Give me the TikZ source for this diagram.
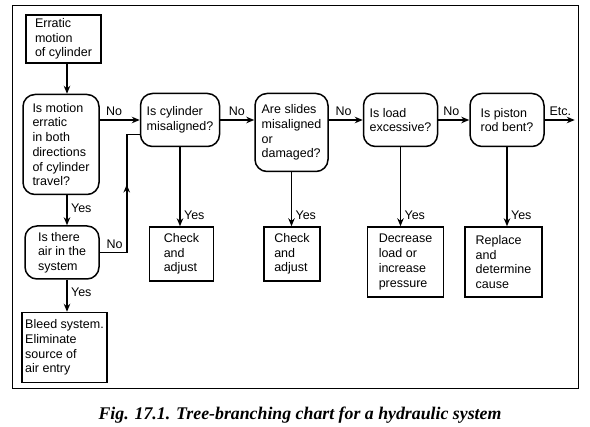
\documentclass[tikz,border=0pt]{standalone}
\usepackage{fontspec}
\setmainfont{Liberation Sans}
\newfontfamily\capfont{Liberation Serif}
\usetikzlibrary{positioning,arrows.meta}

\begin{document}
\begin{tikzpicture}[x=1pt, y=1pt, line width=1.5pt, >={Stealth[length=8pt,width=6.5pt]},
        font=\fontsize{12.5}{14.7}\selectfont,
        actbox/.style={rectangle, draw, align=left, inner sep=2pt},
        askbox/.style={rectangle, rounded corners=12pt, draw, align=left, inner sep=2pt}]
            \useasboundingbox (0,0) rectangle (590,-427);
            % --- Frame ---
            \draw[line width=0.9pt] (12,-5) rectangle (578,-388);

            % --- Nodes Placement ---
            \node[actbox, minimum width=75pt, minimum height=48pt] (Err) at (63.5,-39) {Erratic\\motion\\of cylinder};
            \node[askbox, minimum width=76pt, minimum height=100pt] (Both) [below=30pt of Err, xshift=-2.5pt] {Is motion\\erratic\\in both\\directions\\of cylinder\\travel?};
            \node[askbox, minimum width=74pt, minimum height=53pt] (Air) [below=30pt of Both, xshift=1pt] {Is there\\air in the\\system};
            \node[actbox, minimum width=85pt, minimum height=70pt] (Bleed) [below=32pt of Air, xshift=2.5pt] {Bleed system.\\Eliminate\\source of\\air entry};

            \node[askbox, minimum width=79pt, minimum height=53pt] (Mis) [right=40pt of Both.north east, anchor=north west, yshift=1pt] {Is cylinder\\misaligned?};
            \node[askbox, minimum width=73pt, minimum height=78pt] (Slides) [right=34pt of Mis.north east, anchor=north west] {Are slides\\misaligned\\or\\damaged?};
            \node[askbox, minimum width=74pt, minimum height=53pt] (Load) [right=34pt of Slides.north east, anchor=north west] {Is load\\excessive?};
            \node[askbox, minimum width=74pt, minimum height=53pt] (Rod) [right=31pt of Load.north east, anchor=north west] {Is piston\\rod bent?};
            \coordinate[right=30pt of Rod.east] (etc);

            \node[actbox, minimum width=64pt, minimum height=54pt] (Adj1) [below=79pt of Mis, xshift=1.5pt] {Check\\and\\adjust};
            \node[actbox, minimum width=56pt, minimum height=54pt, anchor=north, xshift=0.5pt] (Adj2) at (Slides.south |- Adj1.north) {Check\\and\\adjust};
            \node[actbox, minimum width=76pt, minimum height=70pt, anchor=north, xshift=5pt] (Dec) at (Load.south |- Adj1.north) {Decrease\\load or\\increase\\pressure};
            \node[actbox, minimum width=77pt, minimum height=70pt, anchor=north, xshift=-3.5pt] (Rep) at (Rod.south |- Adj1.north) {Replace\\and\\determine\\cause};

            % --- Left Column ---
            \coordinate (spine) at (67,0);
            \draw[->] (Err.south -| spine) -- (Both.north -| spine);
            \draw[->] (Both.south -| spine) -- (Air.north -| spine) node[right, pos=0.43] {Yes};
            \draw[->] (Air.south -| spine) -- (Bleed.north -| spine) node[right, pos=0.38] {Yes};

            % --- Top Row ---
            \draw[->] (Both.east |- Mis) -- (Mis.west) node[above, pos=0.36] {No};
            \draw[->] (Mis.east) -- (Mis.east -| Slides.west) node[above, pos=0.49] {No};
            \draw[->] (Mis -| Slides.east) -- (Load.west) node[above, pos=0.44] {No};
            \draw[->] (Load.east) -- (Rod.west) node[above, pos=0.42] {No};
            \draw[->] (Rod.east) -- (etc) node[above, pos=0.52] {Etc.};

            % --- Yes Branches ---
            \draw[->] (Mis.south) -- (Mis.south |- Adj1.north) node[right, pos=0.86] {Yes};
            \draw[->] (Slides.south) -- (Slides.south |- Adj2.north) node[right, pos=0.8] {Yes};
            \draw[->] (Load.south) -- (Load.south |- Dec.north) node[right, pos=0.86] {Yes};
            \draw[->] (Rod.south) -- (Rod.south |- Rep.north) node[right, pos=0.86] {Yes};

            % --- Feedback from Air ---
            \coordinate[right=27pt of Air.east] (turn);
            \draw[->] (Air.east) -- node[above, pos=0.55] {No} (turn) -- ++(0,68);
            \draw (turn) |- ([yshift=-14.5pt]Mis.west);

            % --- Caption ---
            \node[font=\capfont\bfseries\itshape\fontsize{17.8}{20}\selectfont] (cap) at (300,-415) {Fig. 17.1. Tree-branching chart for a hydraulic system};
\end{tikzpicture}
\end{document}
